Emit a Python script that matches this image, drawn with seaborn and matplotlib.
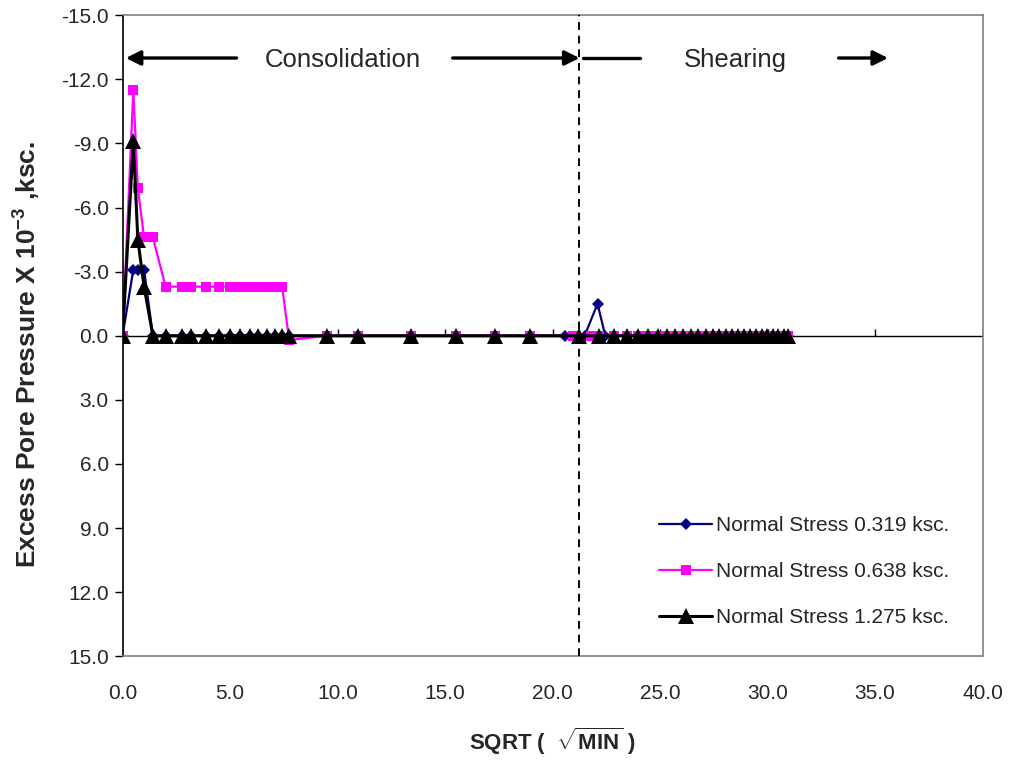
import numpy as np
import pandas as pd
import matplotlib
matplotlib.use("Agg")
import matplotlib.pyplot as plt
import seaborn as sns

# readings, x = sqrt(minutes), y = excess pore pressure x 1e-3 ksc
x_black = [0, 0.5, 0.71, 1.0, 1.41, 2.0, 2.78, 3.16, 3.87, 4.47, 5.0, 5.48, 5.92, 6.32,
           6.71, 7.07, 7.42, 7.75, 9.49, 10.95, 13.42, 15.49, 17.32, 18.97, 21.21,
           22.17, 22.85, 23.44, 23.98, 24.45, 24.88, 25.3, 25.69, 26.07, 26.43, 26.77,
           27.12, 27.44, 27.75, 28.06, 28.35, 28.63, 28.91, 29.18, 29.46, 29.72, 29.98,
           30.23, 30.49, 30.76, 30.96]
y_black = [0, -9.1, -4.5, -2.3, 0, 0, 0, 0, 0, 0, 0, 0, 0, 0,
           0, 0, 0, 0, 0, 0, 0, 0, 0, 0, 0,
           0, 0, 0, 0, 0, 0, 0, 0, 0, 0, 0,
           0, 0, 0, 0, 0, 0, 0, 0, 0, 0, 0,
           0, 0, 0, 0]

x_pink = [0, 0.5, 0.71, 1.0, 1.22, 1.41, 2.0, 2.78, 3.16, 3.87, 4.47, 5.0, 5.48, 5.92,
          6.32, 6.71, 7.07, 7.42, 7.75, 9.49, 10.95, 13.42, 15.49, 17.32, 18.97, 20.95,
          21.8, 22.17, 22.85, 23.44, 23.98, 24.45, 24.88, 25.3, 25.69, 26.07, 26.43,
          26.77, 27.12, 27.44, 27.75, 28.06, 28.35, 28.63, 28.91, 29.18, 29.46, 29.72,
          29.98, 30.23, 30.49, 30.76, 30.96]
y_pink = [0, -11.5, -6.9, -4.6, -4.6, -4.6, -2.3, -2.3, -2.3, -2.3, -2.3, -2.3, -2.3, -2.3,
          -2.3, -2.3, -2.3, -2.3, 0.2, 0, 0, 0, 0, 0, 0, 0,
          0, 0, 0, 0, 0, 0, 0, 0, 0, 0, 0,
          0, 0, 0, 0, 0, 0, 0, 0, 0, 0, 0,
          0, 0, 0, 0, 0]

x_blue = [0, 0.5, 0.71, 1.0, 1.41, 2.0, 2.78, 3.16, 3.87, 4.47, 5.0, 5.48, 5.92, 6.32,
          6.71, 7.07, 7.42, 7.75, 9.49, 10.95, 13.42, 15.49, 17.32, 18.97, 20.57,
          21.49, 22.09, 22.45, 22.85, 23.44, 23.98, 24.45, 24.88, 25.3, 25.69, 26.07,
          26.43, 26.77, 27.12, 27.44, 27.75, 28.06, 28.35, 28.63, 28.91, 29.18, 29.46,
          29.72, 29.98, 30.23, 30.49, 30.76, 30.96]
y_blue = [0, -3.1, -3.1, -3.1, 0, 0, 0, 0, 0, 0, 0, 0, 0, 0,
          0, 0, 0, 0, 0, 0, 0, 0, 0, 0, 0,
          0, -1.5, 0, 0, 0, 0, 0, 0, 0, 0, 0,
          0, 0, 0, 0, 0, 0, 0, 0, 0, 0, 0,
          0, 0, 0, 0, 0, 0]

labels = ["Normal Stress 0.319 ksc.", "Normal Stress 0.638 ksc.", "Normal Stress 1.275 ksc."]
xticks = [0, 5, 10, 15, 20, 25, 30, 35, 40]
yticks = [-15, -12, -9, -6, -3, 0, 3, 6, 9, 12, 15]

sns.set_style("white")
plt.rcParams["font.family"] = ["Liberation Sans", "DejaVu Sans"]
plt.rcParams["mathtext.fontset"] = "custom"
plt.rcParams["mathtext.rm"] = "Liberation Sans"
plt.rcParams["mathtext.bf"] = "Liberation Sans:bold"

fig, ax = plt.subplots(figsize=(10.13, 7.64), dpi=100)
fig.subplots_adjust(left=0.121, right=0.970, top=0.980, bottom=0.141)

df_blue = pd.DataFrame({"x": x_blue, "y": y_blue})
df_pink = pd.DataFrame({"x": x_pink, "y": y_pink})
df_black = pd.DataFrame({"x": x_black, "y": y_black})

sns.lineplot(data=df_blue, x="x", y="y", ax=ax, sort=False, color="#000080", lw=1.6,
             marker="D", markersize=6, markeredgewidth=0, label=labels[0])
sns.lineplot(data=df_pink, x="x", y="y", ax=ax, sort=False, color="#ff00ff", lw=1.6,
             marker="s", markersize=7.5, markeredgewidth=0, label=labels[1])
sns.lineplot(data=df_black, x="x", y="y", ax=ax, sort=False, color="black", lw=2.2,
             marker="^", markersize=12, markeredgewidth=0, label=labels[2])

ax.set_xlim(0, 40)
ax.set_ylim(15, -15)
ax.set_xticks(xticks)
ax.set_xticklabels([f"{v:.1f}" for v in xticks], fontsize=15)
ax.set_yticks(yticks)
ax.set_yticklabels([f"{v:.1f}" for v in yticks], fontsize=15)
ax.tick_params(axis="x", length=0, pad=20)
ax.tick_params(axis="y", length=6, width=1, direction="out", color="black", left=True, pad=4)

for side in ["top", "right", "bottom"]:
    ax.spines[side].set_color("#808080")
    ax.spines[side].set_linewidth(1.2)
ax.spines["left"].set_color("black")
ax.spines["left"].set_linewidth(1.2)

# horizontal axis crossing at zero, with its tick marks
ax.axhline(0, color="black", lw=1.0, zorder=1)
ax.vlines(xticks, -0.3, 0, colors="black", lw=1.0, zorder=1)

# boundary between stages
ax.axvline(21.25, color="black", lw=1.4, ls=(0, (4, 3)), zorder=5)

ap = dict(arrowstyle="-|>", color="black", lw=2.4, mutation_scale=22, shrinkA=0, shrinkB=0)
ax.annotate("", xy=(0.15, -13), xytext=(5.3, -13), arrowprops=ap)
ax.annotate("", xy=(21.25, -13), xytext=(15.35, -13), arrowprops=ap)
ax.plot([21.4, 24.05], [-13, -13], color="black", lw=2.4)
ax.annotate("", xy=(35.6, -13), xytext=(33.3, -13), arrowprops=ap)
ax.text(10.25, -12.9, "Consolidation", fontsize=18.5, ha="center", va="center")
ax.text(28.5, -12.9, "Shearing", fontsize=18.5, ha="center", va="center")

ax.set_xlabel(r"SQRT (  $\sqrt{\mathbf{MIN}}$ )", fontsize=16, fontweight="bold", labelpad=16)
ax.set_ylabel(r"Excess Pore Pressure X 10$^{\mathbf{-3}}$ ,ksc.", fontsize=19,
              fontweight="bold")
ax.yaxis.set_label_coords(-0.094, 0.47)

ax.legend(loc="upper left", bbox_to_anchor=(0.614, 0.232), frameon=False, fontsize=15,
          handlelength=2.55, handletextpad=0.2, labelspacing=1.3, borderaxespad=0)

fig.savefig("out.png", dpi=100)
